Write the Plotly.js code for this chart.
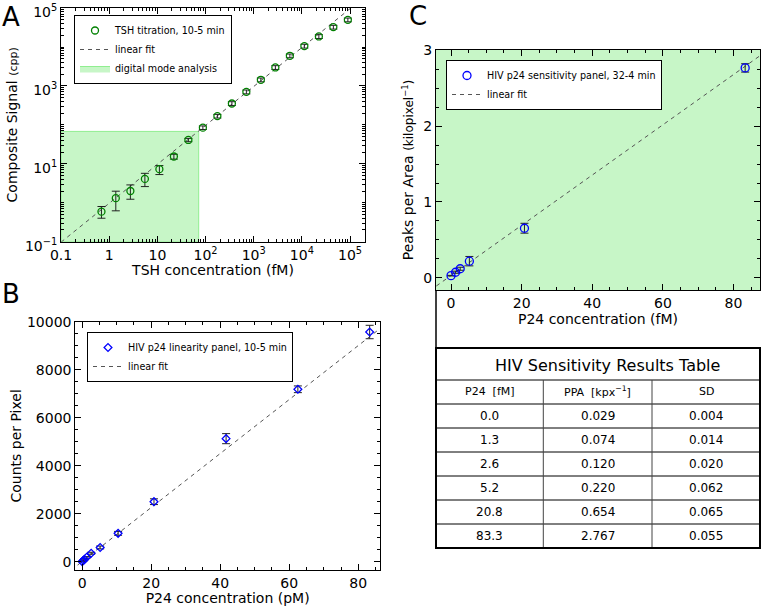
<!DOCTYPE html>
<html><head><meta charset="utf-8">
<script src="https://cdn.plot.ly/plotly-3.0.1.min.js"></script>
<style>html,body{margin:0;padding:0;background:#fff}#chart{width:762px;height:606px}</style>
</head><body><div id="chart"></div>
<script>
// ---------- Panel A: TSH titration (log-log) ----------
const tshConc    = [0.69, 1.37, 2.75, 5.5, 11, 22, 44, 88, 176, 352, 703, 1406, 2813, 5625, 11250, 22500, 45000, 90000];
const tshSignal  = [0.59, 1.31, 2.0, 4.1, 7.3, 15.4, 41, 85, 168, 354, 706, 1440, 2990, 5960, 10600, 18700, 32500, 50000];
const tshErrPlus = [0.21, 0.67, 0.87, 1.6, 1.7, 2.2, 4, 9, 18, 40, 80, 160, 330, 650, 1200, 2100, 3600, 5500];
const tshErrMinus= [0.19, 0.69, 0.77, 1.5, 2.0, 2.2, 4, 9, 18, 40, 80, 160, 330, 650, 1200, 2100, 3600, 5500];
const tshFitX    = [0.1, 200000];
const tshFitY    = [0.097, 194000];
const digitalX   = [0.1, 72, 72, 0.1, 0.1];
const digitalY   = [0.1, 0.1, 68, 68, 0.1];
const tshTickVals = [0.1, 1, 10, 100, 1000, 10000, 100000];
const tshTickText = ['0.1', '1', '10', '10<sup>2</sup>', '10<sup>3</sup>', '10<sup>4</sup>', '10<sup>5</sup>'];
const sigTickVals = [0.1, 10, 1000, 100000];
const sigTickText = ['10<sup>−1</sup>', '10<sup>1</sup>', '10<sup>3</sup>', '10<sup>5</sup>'];

// ---------- Panel B: HIV p24 linearity ----------
const linConc   = [0, 0.33, 0.65, 1.3, 2.6, 5.2, 10.4, 20.8, 41.7, 62.5, 83.3];
const linCounts = [0, 45, 95, 180, 350, 590, 1180, 2500, 5130, 7190, 9580];
const linErr    = [15, 20, 25, 30, 40, 60, 80, 120, 210, 140, 280];
const linFitX   = [-5, 100];
const linFitY   = [-557, 11266];

// ---------- Panel C: HIV p24 sensitivity ----------
const sensConc = [0.0, 1.3, 2.6, 5.2, 20.8, 83.3];
const sensPPA  = [0.029, 0.074, 0.120, 0.220, 0.654, 2.767];
const sensSD   = [0.004, 0.014, 0.020, 0.062, 0.065, 0.055];
const sensFitX = [-6, 95];
const sensFitY = [-0.168, 3.176];
const tableTitle = 'HIV Sensitivity Results Table';
const tableHeaders = ['P24  [fM]', 'PPA  [kpx<sup>−1</sup>]', 'SD'];

// ---------- helpers (layout positions in pixels -> paper) ----------
const W = 762, H = 606;
const px = x => x / W;
const py = y => 1 - y / H;
const FONT = 'DejaVu Sans, Liberation Sans, sans-serif';
const green = '#008000', blue = '#0000ff';

const traces = [
  {x: digitalX, y: digitalY, xaxis: 'x', yaxis: 'y', mode: 'lines', fill: 'toself',
   fillcolor: 'rgba(144,238,144,0.5)', line: {color: 'rgba(144,238,144,1)', width: 1},
   name: 'digital mode analysis', legend: 'legend', legendrank: 3, hoverinfo: 'skip'},
  {x: tshFitX, y: tshFitY, xaxis: 'x', yaxis: 'y', mode: 'lines',
   line: {color: '#555', width: 1, dash: '4px,4px'}, name: 'linear fit', legend: 'legend', legendrank: 2},
  {x: tshConc, y: tshSignal, xaxis: 'x', yaxis: 'y', mode: 'markers',
   marker: {symbol: 'circle-open', color: green, size: 7, line: {width: 1.3, color: green}},
   error_y: {type: 'data', symmetric: false, array: tshErrPlus, arrayminus: tshErrMinus, color: '#222', thickness: 1, width: 4},
   name: 'TSH titration, 10-5 min', legend: 'legend', legendrank: 1},

  {x: linFitX, y: linFitY, xaxis: 'x2', yaxis: 'y2', mode: 'lines',
   line: {color: '#555', width: 1, dash: '4px,4px'}, name: 'linear fit', legend: 'legend2', legendrank: 2},
  {x: linConc, y: linCounts, xaxis: 'x2', yaxis: 'y2', mode: 'markers',
   marker: {symbol: 'diamond-open', color: blue, size: 6, line: {width: 1.3, color: blue}},
   error_y: {type: 'data', array: linErr, color: '#222', thickness: 1, width: 4},
   name: 'HIV p24 linearity panel, 10-5 min', legend: 'legend2', legendrank: 1},

  {x: sensFitX, y: sensFitY, xaxis: 'x3', yaxis: 'y3', mode: 'lines',
   line: {color: '#555', width: 1, dash: '4px,4px'}, name: 'linear fit', legend: 'legend3', legendrank: 2},
  {x: sensConc, y: sensPPA, xaxis: 'x3', yaxis: 'y3', mode: 'markers',
   marker: {symbol: 'circle-open', color: blue, size: 8, line: {width: 1.3, color: blue}},
   error_y: {type: 'data', array: sensSD, color: '#222', thickness: 1, width: 4},
   name: 'HIV p24 sensitivity panel, 32-4 min', legend: 'legend3', legendrank: 1}
];

const axBase = {showline: true, linecolor: 'black', linewidth: 1, mirror: 'allticks', ticks: 'inside',
  ticklen: 6, tickcolor: 'black', showgrid: false, zeroline: false, ticklabeloverflow: 'allow',
  tickfont: {family: FONT, size: 14, color: 'black'}};
const titleFont = {family: FONT, size: 14, color: 'black'};

const legBase = {xanchor: 'left', yanchor: 'top', bgcolor: 'white', bordercolor: 'black', borderwidth: 1,
  font: {family: FONT, size: 9.6, color: 'black'}, tracegroupgap: 0, itemwidth: 30};

// ---------- table (built from the panel C arrays) ----------
const tblX = [436, 543.3, 652, 760];
const tblTop = 348, titleBottom = 380, rowH = 24;
const nRows = sensConc.length + 1;
const tblBottom = titleBottom + nRows * rowH;
const tableCols = [sensConc.map(v => v.toFixed(1)), sensPPA.map(v => v.toFixed(3)), sensSD.map(v => v.toFixed(3))];

const shapes = [
  {type: 'rect', xref: 'x3 domain', yref: 'y3 domain', x0: 0, x1: 1, y0: 0, y1: 1, layer: 'below',
   fillcolor: 'rgba(144,238,144,0.5)', line: {width: 0}},
  {type: 'line', xref: 'paper', yref: 'paper', x0: px(436), x1: px(436), y0: py(290), y1: py(tblTop), line: {color: 'black', width: 1.5}}
];
for (let r = 0; r <= nRows; r++) {
  const yy = titleBottom + r * rowH;
  shapes.push({type: 'line', xref: 'paper', yref: 'paper', x0: px(tblX[0]), x1: px(tblX[3]), y0: py(yy), y1: py(yy), line: {color: 'black', width: 1}});
}
for (let c = 1; c < 3; c++) {
  shapes.push({type: 'line', xref: 'paper', yref: 'paper', x0: px(tblX[c]), x1: px(tblX[c]), y0: py(titleBottom), y1: py(tblBottom), line: {color: '#444', width: 1}});
}
shapes.push({type: 'rect', xref: 'paper', yref: 'paper', x0: px(tblX[0]), x1: px(tblX[3]), y0: py(tblBottom), y1: py(tblTop), line: {color: 'black', width: 2}});

const annotations = [
  {text: 'A', xref: 'paper', yref: 'paper', x: px(0), y: py(17), xanchor: 'left', yanchor: 'middle', showarrow: false, font: {family: FONT, size: 26, color: 'black'}},
  {text: 'B', xref: 'paper', yref: 'paper', x: px(0), y: py(294), xanchor: 'left', yanchor: 'middle', showarrow: false, font: {family: FONT, size: 26, color: 'black'}},
  {text: 'C', xref: 'paper', yref: 'paper', x: px(407), y: py(16), xanchor: 'left', yanchor: 'middle', showarrow: false, font: {family: FONT, size: 26, color: 'black'}},
  {text: tableTitle, xref: 'paper', yref: 'paper', x: px(607), y: py(365), xanchor: 'center', yanchor: 'middle', showarrow: false, font: {family: FONT, size: 16, color: 'black'}}
];
for (let c = 0; c < 3; c++) {
  const cx = (tblX[c] + tblX[c + 1]) / 2;
  annotations.push({text: tableHeaders[c], xref: 'paper', yref: 'paper', x: px(cx), y: py(titleBottom + rowH / 2), xanchor: 'center', yanchor: 'middle', showarrow: false, font: {family: FONT, size: 11, color: 'black'}});
  tableCols[c].forEach((t, i) => {
    annotations.push({text: t, xref: 'paper', yref: 'paper', x: px(cx), y: py(titleBottom + rowH * (i + 1.5)), xanchor: 'center', yanchor: 'middle', showarrow: false, font: {family: FONT, size: 12, color: 'black'}});
  });
}

const layout = {
  width: W, height: H, margin: {l: 0, r: 0, t: 0, b: 0}, paper_bgcolor: 'white', plot_bgcolor: 'rgba(0,0,0,0)',
  font: {family: FONT, color: 'black'},
  xaxis: Object.assign({}, axBase, {type: 'log', range: [-1.001, 5.31], domain: [px(61), px(365)], anchor: 'y',
    tickmode: 'array', tickvals: tshTickVals, ticktext: tshTickText,
    minor: {ticks: 'inside', ticklen: 3, dtick: 'D1', tickcolor: 'black', showgrid: false},
    title: {text: 'TSH concentration (fM)', font: titleFont, standoff: 2}}),
  yaxis: Object.assign({}, axBase, {type: 'log', range: [-1.001, 5.003], domain: [py(241.7), py(8)], anchor: 'x',
    tickmode: 'array', tickvals: sigTickVals, ticktext: sigTickText, ticklabelshift: 4,
    minor: {ticks: 'inside', ticklen: 3, dtick: 'D1', tickcolor: 'black', showgrid: false},
    title: {text: 'Composite Signal <span style="font-size:11px">(cpp)</span>', font: titleFont, standoff: 4}}),
  xaxis2: Object.assign({}, axBase, {range: [-2, 86.3], domain: [px(75.3), px(380)], anchor: 'y2',
    tick0: 0, dtick: 20, minor: {ticks: 'inside', ticklen: 3, dtick: 5, tickcolor: 'black', showgrid: false},
    title: {text: 'P24 concentration (pM)', font: titleFont, standoff: 0}}),
  yaxis2: Object.assign({}, axBase, {range: [-350, 10010], domain: [py(570), py(321.7)], anchor: 'x2',
    tick0: 0, dtick: 2000, tickformat: 'd', minor: {ticks: 'inside', ticklen: 3, dtick: 500, tickcolor: 'black', showgrid: false},
    title: {text: 'Counts per Pixel', font: titleFont, standoff: 2}}),
  xaxis3: Object.assign({}, axBase, {range: [-4.25, 87.5], domain: [px(436), px(760)], anchor: 'y3',
    tick0: 0, dtick: 20, minor: {ticks: 'inside', ticklen: 3, dtick: 5, tickcolor: 'black', showgrid: false},
    title: {text: 'P24 concentration (fM)', font: titleFont, standoff: 0}}),
  yaxis3: Object.assign({}, axBase, {range: [-0.16, 3.003], domain: [py(290), py(50)], anchor: 'x3',
    tick0: 0, dtick: 1, minor: {ticks: 'inside', ticklen: 3, dtick: 0.25, tickcolor: 'black', showgrid: false},
    title: {text: 'Peaks per Area <span style="font-size:12px">(kilopixel<sup>−1</sup>)</span>', font: titleFont, standoff: 6}}),
  legend: Object.assign({}, legBase, {x: px(74), y: py(15)}),
  legend2: Object.assign({}, legBase, {x: px(87), y: py(332)}),
  legend3: Object.assign({}, legBase, {x: px(446), y: py(60)}),
  shapes: shapes,
  annotations: annotations
};

Plotly.newPlot('chart', traces, layout, {displayModeBar: false, staticPlot: true});
</script></body></html>
